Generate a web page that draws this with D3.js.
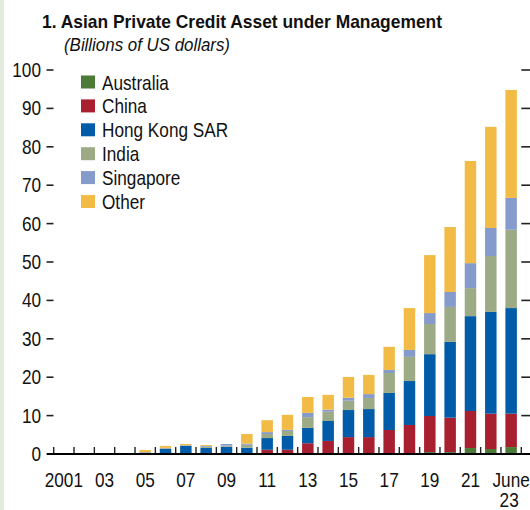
<!DOCTYPE html>
<html>
<head>
<meta charset="utf-8">
<script src="https://cdn.jsdelivr.net/npm/d3@7"></script>
<style>
  html, body { margin: 0; padding: 0; background: #fff; }
  svg { display: block; }
  text { font-family: "Liberation Sans", Arial, sans-serif; fill: #111; }
</style>
</head>
<body>
<svg id="chart" width="530" height="510"></svg>
<script>
const categories = ["2001","2002","2003","2004","2005","2006","2007","2008","2009","2010","2011",
  "2012","2013","2014","2015","2016","2017","2018","2019","2020","2021","2022","June 23"];
const tickLabels = ["2001","","03","","05","","07","","09","","11","","13","","15","","17","","19","","21","","June 23"];
const seriesNames = ["Australia","China","Hong Kong SAR","India","Singapore","Other"];
const seriesColors = ["#4b7b36","#a81f2f","#005ca8","#9cab85","#849bcb","#f2bb46"];

const australia = [0,0,0,0,0,0,0,0,0,0,0,0,0,0,0,0,0,0,0.5,0.5,1.55,1.3,1.8];
const china     = [0,0,0,0,0,0,0,0,0,0,1.1,1.1,2.8,3.4,4.4,4.4,6.25,7.55,9.4,8.95,9.65,9.2,8.7];
const hongKong  = [0,0,0,0,0.35,1.3,2.1,1.6,1.9,1.65,3.05,3.6,4.0,5.2,7.05,7.3,9.65,11.45,16.1,19.75,24.7,26.5,27.5];
const india     = [0,0,0,0,0.1,0.2,0.1,0.3,0.3,0.75,1.05,1.3,2.8,2.4,2.45,2.9,5.2,6.3,7.85,9.1,7.3,14.55,20.4];
const singapore = [0,0,0,0,0.05,0.1,0.1,0.2,0.4,0.3,0.5,0.3,1.1,0.55,0.75,1.0,0.8,1.8,2.85,3.9,6.5,7.3,8.3];
const other     = [0,0.25,0.25,0.25,0.55,0.5,0.3,0.25,0,2.5,3.1,3.9,4.15,3.85,5.4,5.0,6.0,10.9,15.1,16.9,26.6,26.35,28.1];
const yTicks = [0,10,20,30,40,50,60,70,80,90,100];

const seriesValues = [australia, china, hongKong, india, singapore, other];
const keys = seriesNames;
const table = categories.map((c, i) => {
  const row = { cat: c };
  keys.forEach((k, j) => row[k] = seriesValues[j][i]);
  return row;
});

const SX = 0.86; // condensed look
const svg = d3.select("#chart");

function narrowText(parent, x, y, str, opts) {
  const g = parent.append("g").attr("transform", `translate(${x},${y}) scale(${SX},1)`);
  const t = g.append("text").attr("x", 0).attr("y", 0)
    .attr("font-size", opts.size || 20)
    .attr("text-anchor", opts.anchor || "start")
    .text(str);
  if (opts.dy) t.attr("dy", opts.dy);
  return t;
}

// left page strip
svg.append("rect").attr("x", 0).attr("y", 0).attr("width", 4).attr("height", 510).attr("fill", "#e3ecdc");

const x = d3.scaleBand().domain(categories).range([53.7, 521.3]).paddingInner(0.435).paddingOuter(0.2175);
const y = d3.scaleLinear().domain([0, 100]).range([454, 70]);

const stacked = d3.stack().keys(keys)(table);

svg.append("g").selectAll("g").data(stacked).join("g")
  .attr("fill", (d, i) => seriesColors[i])
  .selectAll("rect").data(d => d).join("rect")
  .attr("x", d => x(d.data.cat))
  .attr("width", x.bandwidth())
  .attr("y", d => y(d[1]))
  .attr("height", d => Math.max(0, y(d[0]) - y(d[1])));

// y axis left labels + ticks
const yl = svg.append("g");
yl.selectAll("line").data(yTicks).join("line")
  .attr("x1", 46.5).attr("x2", 53.5)
  .attr("y1", d => y(d)).attr("y2", d => y(d))
  .attr("stroke", "#222").attr("stroke-width", 1.6);
yTicks.forEach(d => narrowText(yl, 41, y(d), String(d), { anchor: "end", dy: "0.35em" }));

// right ticks
svg.append("g").selectAll("line").data(yTicks.filter(d => d > 0)).join("line")
  .attr("x1", 521.3).attr("x2", 530)
  .attr("y1", d => y(d)).attr("y2", d => y(d))
  .attr("stroke", "#222").attr("stroke-width", 1.6);

// x axis ticks at band boundaries
const half = (x.step() - x.bandwidth()) / 2;
const bounds = categories.map(c => x(c) - half).concat([x(categories[categories.length - 1]) + x.bandwidth() + half]);
svg.append("g").selectAll("line").data(bounds).join("line")
  .attr("x1", d => d).attr("x2", d => d)
  .attr("y1", 447).attr("y2", 454)
  .attr("stroke", "#222").attr("stroke-width", 1.4);

svg.append("line").attr("x1", 47).attr("x2", 530).attr("y1", 454).attr("y2", 454)
  .attr("stroke", "#000").attr("stroke-width", 2);

// x labels
const xl = svg.append("g");
categories.forEach((c, i) => {
  const lab = tickLabels[i];
  if (!lab) return;
  const cx = x(c) + x.bandwidth() / 2;
  const parts = lab.split(" ");
  parts.forEach((p, k) => {
    narrowText(xl, cx - (k === 1 ? 2 : 0), 486.5 + k * 20.5, p, { anchor: "middle" });
  });
});

// title
svg.append("text").attr("x", 42).attr("y", 28).attr("font-size", 19).attr("font-weight", "bold")
  .attr("textLength", 400).attr("lengthAdjust", "spacingAndGlyphs")
  .text("1. Asian Private Credit Asset under Management");
svg.append("text").attr("x", 64).attr("y", 50.5).attr("font-size", 18).attr("font-style", "italic")
  .attr("textLength", 166).attr("lengthAdjust", "spacingAndGlyphs")
  .text("(Billions of US dollars)");

// legend
const lg = svg.append("g");
seriesNames.forEach((n, i) => {
  const cy = 82 + i * 23.9;
  lg.append("rect").attr("x", 81).attr("y", cy - 6.5).attr("width", 14).attr("height", 13).attr("fill", seriesColors[i]);
  narrowText(lg, 102, cy + 7.5, n, {});
});
</script>
</body>
</html>
